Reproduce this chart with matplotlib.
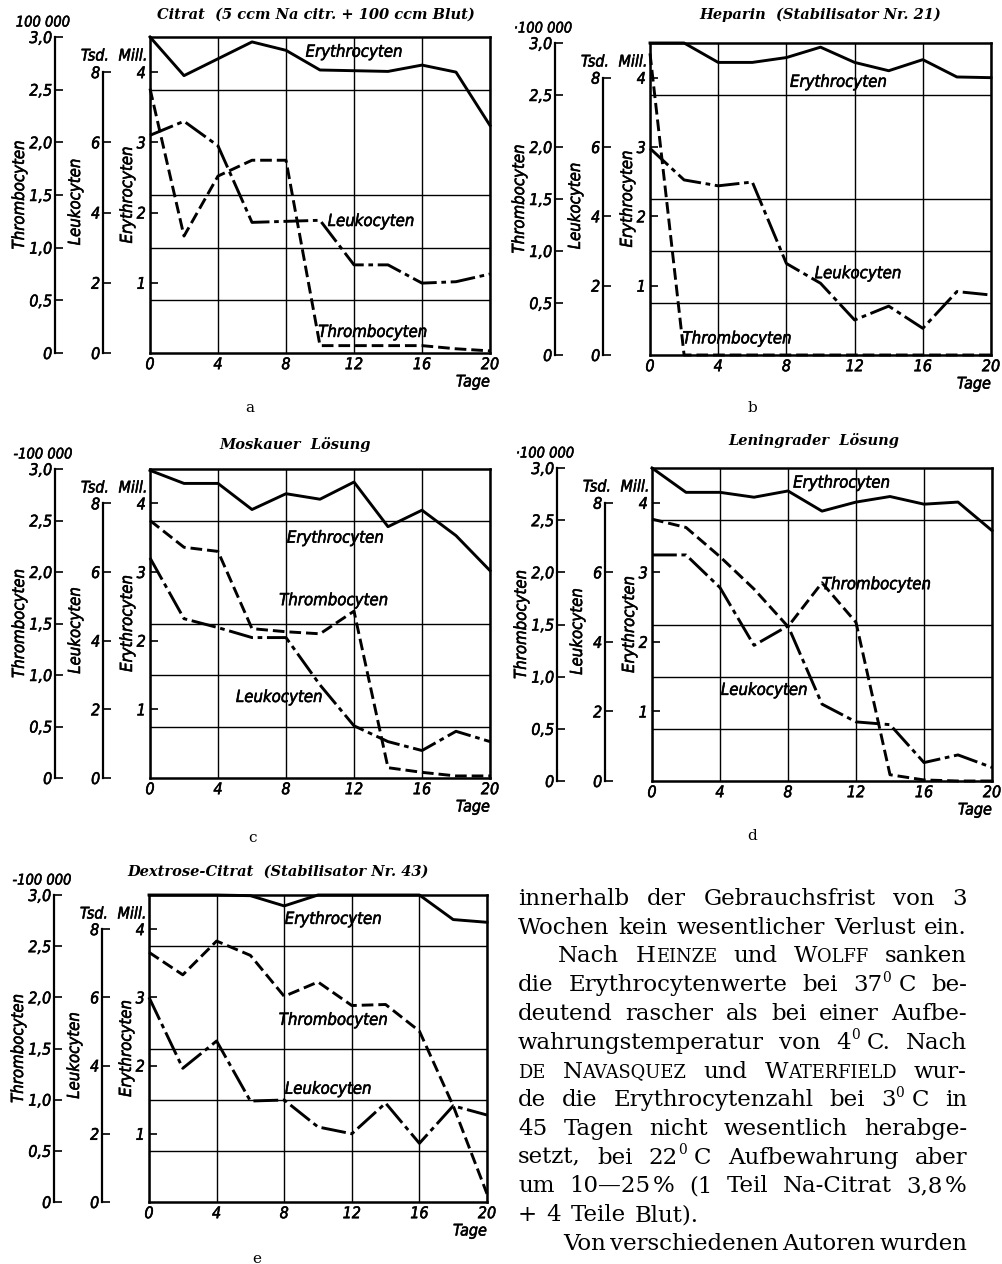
import matplotlib
matplotlib.use("Agg")
import matplotlib.pyplot as plt
from matplotlib import font_manager as fm
from matplotlib.font_manager import FontProperties
import matplotlib.patheffects as pe

# ---------------- data ----------------
days = [0, 2, 4, 6, 8, 10, 12, 14, 16, 18, 20]
x_ticks = [0, 4, 8, 12, 16, 20]
ery_ticks = [1, 2, 3, 4]
leu_ticks = [0, 2, 4, 6, 8]
thr_ticks = [0, 0.5, 1.0, 1.5, 2.0, 2.5, 3.0]
thr_tick_labels = ["0", "0,5", "1,0", "1,5", "2,0", "2,5", "3,0"]

# Erythrocyten (Mill.), Leukocyten (Tsd.), Thrombocyten (x100 000)
ery_a = [4.50, 3.95, 4.19, 4.43, 4.31, 4.03, 4.02, 4.01, 4.10, 4.00, 3.24]
leu_a = [6.20, 6.60, 5.90, 3.72, 3.75, 3.78, 2.51, 2.51, 1.99, 2.03, 2.25]
thr_a = [2.51, 1.11, 1.68, 1.83, 1.83, 0.07, 0.07, 0.07, 0.07, 0.04, 0.02]

ery_b = [4.50, 4.50, 4.22, 4.22, 4.29, 4.44, 4.22, 4.10, 4.26, 4.01, 4.00]
leu_b = [5.96, 5.05, 4.88, 4.99, 2.64, 2.07, 1.01, 1.41, 0.77, 1.83, 1.73]
thr_b = [2.90, 0.00, 0.00, 0.00, 0.00, 0.00, 0.00, 0.00, 0.00, 0.00, 0.00]

ery_c = [4.48, 4.29, 4.29, 3.91, 4.14, 4.06, 4.31, 3.66, 3.90, 3.53, 3.02]
leu_c = [6.41, 4.64, 4.38, 4.09, 4.09, 2.71, 1.52, 1.06, 0.80, 1.36, 1.06]
thr_c = [2.50, 2.24, 2.20, 1.45, 1.42, 1.40, 1.62, 0.10, 0.055, 0.02, 0.02]

ery_d = [4.50, 4.15, 4.15, 4.08, 4.17, 3.88, 4.01, 4.09, 3.98, 4.01, 3.60]
leu_d = [6.50, 6.50, 5.56, 3.90, 4.46, 2.21, 1.70, 1.62, 0.53, 0.75, 0.39]
thr_d = [2.51, 2.43, 2.15, 1.84, 1.48, 1.90, 1.52, 0.06, 0.01, 0.00, 0.00]

ery_e = [4.50, 4.50, 4.50, 4.49, 4.34, 4.50, 4.50, 4.50, 4.50, 4.14, 4.10]
leu_e = [6.00, 3.92, 4.72, 2.96, 2.99, 2.20, 2.00, 2.90, 1.72, 2.82, 2.55]
thr_e = [2.44, 2.22, 2.55, 2.41, 2.01, 2.15, 1.92, 1.93, 1.67, 0.94, 0.08]

titles = ["Citrat  (5 ccm Na citr. + 100 ccm Blut)",
          "Heparin  (Stabilisator Nr. 21)",
          "Moskauer  Lösung",
          "Leningrader  Lösung",
          "Dextrose-Citrat  (Stabilisator Nr. 43)"]
letters = ["a", "b", "c", "d", "e"]
factor_labels = ["100 000", "·100 000", "-100 000", "·100 000", "-100 000"]

# ---------------- fonts ----------------
SERIF = "DejaVu Serif"


def pick_narrow():
    best = None
    for f in fm.fontManager.ttflist:
        fn = f.fname.lower()
        nm = f.name.lower()
        narrow = ("narrow" in fn or "condensed" in fn or "narrow" in nm or "condensed" in nm
                  or str(f.stretch) in ("condensed", "semi-condensed", "extra-condensed"))
        if not narrow:
            continue
        score = 0
        if f.style in ("italic", "oblique"):
            score += 10
        try:
            w = int(f.weight)
        except Exception:
            w = 400 if str(f.weight) in ("normal", "regular") else 700
        if w == 400:
            score += 5
        elif w < 400:
            score += 2
        if "sans" in fn or "roboto" in fn or "sans" in nm:
            score += 3
        if "mono" in fn:
            score -= 20
        if best is None or score > best[0]:
            best = (score, f.fname)
    return best[1] if best else None


NARROW_FILE = pick_narrow()
HEAVY = [pe.withStroke(linewidth=0.4, foreground="black")]


def fp(size):
    if NARROW_FILE:
        return FontProperties(fname=NARROW_FILE, size=size)
    return FontProperties(family=["Liberation Sans", "DejaVu Sans"], style="italic", size=size)


W, H = 1003, 1264
fig = plt.figure(figsize=(W / 100, H / 100), dpi=100)
fig.patch.set_facecolor("white")
PT = 72 / 100.0  # points per pixel


def fx(px):
    return px / W


def fy(py):
    return 1 - py / H


TICK_FS = 11.5
LAB_FS = 12


def ntext(x, y, s, size, **kw):
    return fig.text(fx(x), fy(y), s, fontproperties=fp(size), path_effects=HEAVY, **kw)


panels = [
    dict(L=150, R=490, T=37, B=353, ery=ery_a, leu=leu_a, thr=thr_a,
         tpos=(316, 15), lpos=(250, 408),
         lab=dict(E=(12.0, 4.29), L=(13.0, 1.88), T=(13.1, 0.30))),
    dict(L=650, R=991, T=43, B=355, ery=ery_b, leu=leu_b, thr=thr_b,
         tpos=(820, 15), lpos=(752, 408),
         lab=dict(E=(11.05, 3.94), L=(12.2, 1.18), T=(5.1, 0.24))),
    dict(L=150, R=490, T=469, B=778, ery=ery_c, leu=leu_c, thr=thr_c,
         tpos=(295, 445), lpos=(253, 838),
         lab=dict(E=(10.9, 3.50), L=(7.6, 1.18), T=(10.8, 2.59))),
    dict(L=652, R=992, T=468, B=781, ery=ery_d, leu=leu_d, thr=thr_d,
         tpos=(814, 440), lpos=(752, 836),
         lab=dict(E=(11.15, 4.29), L=(6.6, 1.31), T=(13.2, 2.83))),
    dict(L=149, R=487, T=895, B=1202, ery=ery_e, leu=leu_e, thr=thr_e,
         tpos=(278, 872), lpos=(257, 1259),
         lab=dict(E=(10.9, 4.15), L=(10.6, 1.66), T=(10.9, 2.67))),
]

LEU_STYLE = (0, (8.5, 1.6, 1.6, 1.6))
THR_STYLE = (0, (4.0, 1.7))


def style_ticklabels(labels, size):
    for t in labels:
        t.set_fontproperties(fp(size))
        t.set_path_effects(HEAVY)


for i, p in enumerate(panels):
    L, R, T, B = p["L"], p["R"], p["T"], p["B"]
    ax = fig.add_axes([fx(L), fy(B), (R - L) / W, (B - T) / H])
    ax.set_xlim(0, 20)
    ax.set_ylim(0, 4.5)
    for s in ax.spines.values():
        s.set_linewidth(1.8)
    ax.set_xticks(x_ticks)
    ax.set_xticklabels([str(v) for v in x_ticks])
    ax.tick_params(axis="x", length=0, pad=3)
    ax.set_yticks(ery_ticks)
    ax.set_yticklabels([str(v) for v in ery_ticks])
    ax.tick_params(axis="y", which="major", direction="in", length=6, width=1.2, pad=3)
    ax.set_yticks([0.75, 1.5, 2.25, 3.0, 3.75], minor=True)
    ax.tick_params(axis="y", which="minor", length=0)
    ax.grid(True, axis="x", which="major", color="black", lw=1.0)
    ax.grid(True, axis="y", which="minor", color="black", lw=1.0)
    ax.set_axisbelow(True)
    style_ticklabels(ax.get_xticklabels() + ax.get_yticklabels(), TICK_FS)

    axl = ax.twinx()
    axl.set_ylim(0, 9)
    axt = ax.twinx()
    axt.set_ylim(0, 3.0)
    for a2, off, ticks, bound in ((axl, 47, leu_ticks, 8), (axt, 95, thr_ticks, 3.0)):
        for k in ("right", "top", "bottom"):
            a2.spines[k].set_visible(False)
        a2.spines["left"].set_visible(True)
        a2.spines["left"].set_position(("outward", off * PT))
        a2.spines["left"].set_bounds(0, bound)
        a2.spines["left"].set_linewidth(1.6)
        a2.yaxis.set_ticks_position("left")
        a2.set_yticks(ticks)
        a2.tick_params(axis="y", direction="in", length=6, width=1.2, pad=2)
    axl.set_yticklabels([str(v) for v in leu_ticks])
    axt.set_yticklabels(thr_tick_labels)
    style_ticklabels(axl.get_yticklabels() + axt.get_yticklabels(), TICK_FS)

    ax.plot(days, p["ery"], color="black", lw=2.1, clip_on=False, zorder=3)
    axl.plot(days, p["leu"], color="black", lw=2.1, linestyle=LEU_STYLE, clip_on=False)
    axt.plot(days, p["thr"], color="black", lw=2.1, linestyle=THR_STYLE, clip_on=False)

    lab = p["lab"]
    for key, name in (("E", "Erythrocyten"), ("L", "Leukocyten"), ("T", "Thrombocyten")):
        ax.text(*lab[key], name, ha="center", va="center", fontproperties=fp(LAB_FS),
                path_effects=HEAVY, zorder=4)

    mid = (T + B) / 2
    ntext(L - 131, mid, "Thrombocyten", LAB_FS, rotation=90, ha="center", va="center")
    ntext(L - 75, mid + 7, "Leukocyten", LAB_FS, rotation=90, ha="center", va="center")
    ntext(L - 23, mid, "Erythrocyten", LAB_FS, rotation=90, ha="center", va="center")
    ntext(L - 107, T - 15, factor_labels[i], TICK_FS - 1, ha="center", va="center")
    ntext(L - 55, T + 19, "Tsd.", TICK_FS, ha="center", va="center")
    ntext(L - 17, T + 19, "Mill.", TICK_FS, ha="center", va="center")
    ntext(R, B + 29, "Tage", TICK_FS, ha="right", va="center")

    fig.text(fx(p["tpos"][0]), fy(p["tpos"][1]), titles[i], ha="center", va="center",
             family=SERIF, style="italic", weight="bold", fontsize=10.5)
    fig.text(fx(p["lpos"][0]), fy(p["lpos"][1]), letters[i], ha="center", va="center",
             family=SERIF, style="normal", fontsize=11)

# ---------------- body text ----------------
renderer = fig.canvas.get_renderer()


def measure(txt, size):
    t = fig.text(0, 0, txt, fontsize=size, family=SERIF, style="normal")
    w = t.get_window_extent(renderer).width
    t.remove()
    return w


BODY_L, BODY_R = 518, 967
base = measure("Wochen kein wesentlicher Verlust ein.", 10)
BODY_FS = 10 * 445.0 / base
SC = 0.78
SUP = 0.6

G = ("", "gap")
body = [
    ("J", 0, [["innerhalb"], ["der"], ["Gebrauchsfrist"], ["von"], ["3"]]),
    ("J", 0, [["Wochen"], ["kein"], ["wesentlicher"], ["Verlust"], ["ein."]]),
    ("J", 40, [["Nach"], [("H", "n"), ("EINZE", "sc")], ["und"], [("W", "n"), ("OLFF", "sc")], ["sanken"]]),
    ("J", 0, [["die"], ["Erythrocytenwerte"], ["bei"], [("37", "n"), ("0", "sup"), G, ("C", "n")], ["be-"]]),
    ("J", 0, [["deutend"], ["rascher"], ["als"], ["bei"], ["einer"], ["Aufbe-"]]),
    ("J", 0, [["wahrungstemperatur"], ["von"], [("4", "n"), ("0", "sup"), G, ("C.", "n")], ["Nach"]]),
    ("J", 0, [[("DE", "sc")], [("N", "n"), ("AVASQUEZ", "sc")], ["und"], [("W", "n"), ("ATERFIELD", "sc")], ["wur-"]]),
    ("J", 0, [["de"], ["die"], ["Erythrocytenzahl"], ["bei"], [("3", "n"), ("0", "sup"), G, ("C", "n")], ["in"]]),
    ("J", 0, [["45"], ["Tagen"], ["nicht"], ["wesentlich"], ["herabge-"]]),
    ("J", 0, [["setzt,"], ["bei"], [("22", "n"), ("0", "sup"), G, ("C", "n")], ["Aufbewahrung"], ["aber"]]),
    ("J", 0, [["um"], [("10—25", "n"), ("", "thin"), ("%", "n")], ["(1"], ["Teil"], ["Na-Citrat"], [("3,8", "n"), ("", "thin"), ("%", "n")]]),
    ("N", 0, [["+"], ["4"], ["Teile"], ["Blut)."]]),
    ("J", 45, [["Von"], ["verschiedenen"], ["Autoren"], ["wurden"]]),
]

px_per_pt = 100 / 72.0


def norm_word(word):
    out = []
    for r in word:
        if isinstance(r, str):
            out.append((r, "n"))
        else:
            out.append(r)
    return out


def run_size(kind):
    if kind == "sc":
        return BODY_FS * SC
    if kind == "sup":
        return BODY_FS * SUP
    return BODY_FS


def run_w(r):
    txt, kind = r
    if kind == "gap":
        return 0.32 * BODY_FS * px_per_pt
    if kind == "thin":
        return 0.12 * BODY_FS * px_per_pt
    return measure(txt, run_size(kind))


y0, dy = 905, 28.75
space_nat = measure("a a", BODY_FS) - measure("aa", BODY_FS)
for li, (mode, indent, words) in enumerate(body):
    yb = y0 + li * dy
    words = [norm_word(w) for w in words]
    widths = [[run_w(r) for r in w] for w in words]
    tot = sum(sum(w) for w in widths)
    x0 = BODY_L + indent
    if mode == "J" and len(words) > 1:
        gap = (BODY_R - x0 - tot) / (len(words) - 1)
    else:
        gap = space_nat * 1.3
    x = x0
    for w, ws in zip(words, widths):
        for r, rw in zip(w, ws):
            txt, kind = r
            if kind not in ("gap", "thin"):
                yy = yb - (0.42 * BODY_FS * px_per_pt if kind == "sup" else 0)
                fig.text(fx(x), fy(yy), txt, ha="left", va="baseline", family=SERIF,
                         style="normal", fontsize=run_size(kind))
            x += rw
        x += gap

fig.savefig("out.png", dpi=100, facecolor="white")
